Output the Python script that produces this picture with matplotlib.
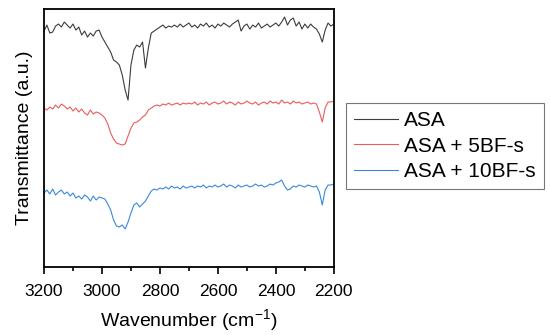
import numpy as np
import matplotlib
matplotlib.use("Agg")
import matplotlib.pyplot as plt

plt.rcParams['font.family'] = ['Liberation Sans', 'DejaVu Sans']

wavenumber = np.arange(3200, 2195, -10)

labels = ["ASA", "ASA + 5BF-s", "ASA + 10BF-s"]
colors = ["#3c3c3c", "#ee5a5a", "#3a88dc"]

# pixel-row readings (converted to arbitrary transmittance below)
asa_px = [
    31, 25, 33, 32, 26, 24, 27, 22, 25, 28,
    24, 30, 27, 35, 31, 37, 33, 36, 31, 30,
    37, 42, 47, 52, 60, 62, 65, 75, 90, 100,
    65, 50, 45, 47, 42, 68, 48, 33, 31, 29,
    27, 25, 28, 26, 27, 25, 27, 24, 27, 25,
    23, 27, 25, 28, 24, 26, 23, 27, 25, 28,
    24, 26, 23, 25, 27, 24, 22, 20, 31, 26,
    24, 29, 25, 27, 23, 28, 26, 24, 27, 25,
    23, 26, 22, 17, 25, 20, 18, 26, 22, 29,
    24, 28, 24, 27, 29, 34, 42, 30, 23, 26, 24,
]
bf5_px = [
    108, 110, 107, 109, 105, 108, 104, 106, 109, 107,
    111, 108, 112, 109, 113, 115, 110, 114, 112, 113,
    115, 118, 124, 133, 139, 143, 144, 145, 144, 136,
    128, 123, 122, 120, 117, 115, 110, 108, 106, 105,
    106, 104, 105, 103, 105, 104, 103, 105, 103, 104,
    103, 104, 102, 105, 103, 104, 102, 105, 103, 102,
    104, 103, 101, 104, 102, 103, 105, 102, 104, 103,
    101, 103, 104, 102, 105, 103, 102, 104, 101, 103,
    102, 104, 100, 103, 102, 104, 101, 103, 102, 104,
    103, 102, 104, 103, 104, 112, 122, 108, 102, 102, 101,
]
bf10_px = [
    193, 190, 194, 189, 195, 192, 190, 194, 192, 196,
    193, 198, 196, 199, 195, 197, 201, 196, 200, 197,
    198, 199, 204, 210, 220, 226, 227, 225, 229, 222,
    213, 205, 203, 207, 204, 201, 196, 191, 189, 190,
    188, 189, 187, 189, 186, 188, 187, 189, 186, 188,
    187, 186, 188, 186, 187, 185, 188, 186, 187, 185,
    187, 186, 184, 187, 185, 186, 188, 185, 187, 186,
    185, 187, 186, 184, 186, 185, 187, 186, 184, 185,
    183, 182, 180, 186, 190, 189, 186, 187, 185, 186,
    187, 185, 186, 187, 186, 192, 205, 190, 185, 185, 184,
]

series = [267 - np.array(s, dtype=float) for s in (asa_px, bf5_px, bf10_px)]

fig = plt.figure(figsize=(5.5, 3.35), dpi=100)
ax = fig.add_axes([0.08, 0.203, 0.527, 0.770])

lines = []
for y, c, lab in zip(series, colors, labels):
    ln, = ax.plot(wavenumber, y, color=c, lw=0.8, label=lab)
    lines.append(ln)

ax.set_xlim(3200, 2200)
ax.set_ylim(0, 258)
ax.set_xticks([3200, 3000, 2800, 2600, 2400, 2200])
ax.set_xticks([3100, 2900, 2700, 2500, 2300], minor=True)
ax.set_yticks([])
ax.tick_params(axis='x', which='major', direction='out', length=5, width=1.2, labelsize=12.5, pad=7)
ax.tick_params(axis='x', which='minor', direction='out', length=3, width=1.2)
for s in ax.spines.values():
    s.set_linewidth(1.3)

ax.set_xlabel("Wavenumber (cm$^{\\mathregular{-1}}$)", fontsize=14, labelpad=6)
ax.set_ylabel("Transmittance (a.u.)", fontsize=14, labelpad=8)

leg = fig.legend(handles=lines, loc='upper left', bbox_to_anchor=(0.629, 0.6925),
                 frameon=True, fancybox=False, edgecolor='#555555', fontsize=15,
                 handlelength=2.1, labelspacing=0.3, borderpad=0.4,
                 handletextpad=0.3, borderaxespad=0)
leg.get_frame().set_linewidth(0.8)

fig.savefig("out.png", dpi=100)
